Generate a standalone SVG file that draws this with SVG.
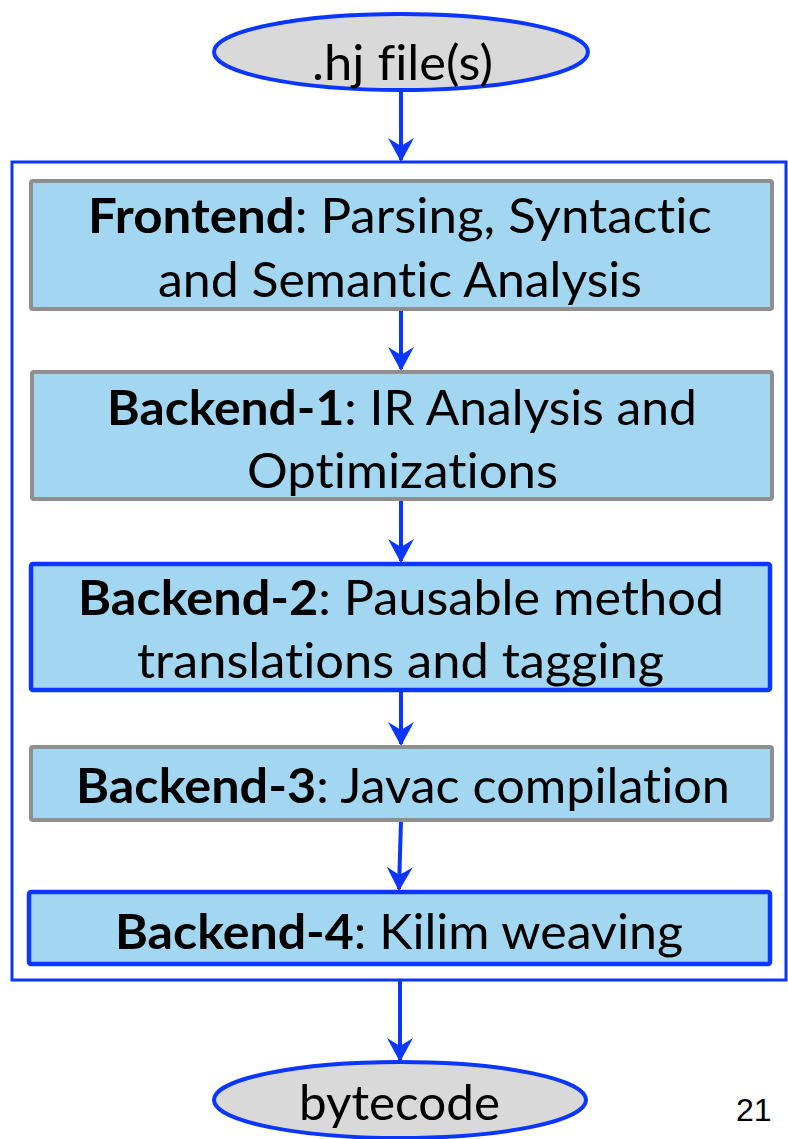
<svg xmlns="http://www.w3.org/2000/svg" width="788" height="1139" viewBox="0 0 788 1139">
<style>
.bg{fill:#ffffff}
.ell{fill:#d9d9d9;stroke:#0a36ff;stroke-width:4}
.outer{fill:none;stroke:#0a36ff;stroke-width:3}
.box{fill:#a3d7f1;stroke-width:4}
.gray{stroke:#8f8f8f}
.blue{stroke:#0a36ff;stroke-width:4.5}
.t{font-family:Lato,"Open Sans",sans-serif;font-size:48px;fill:#000;font-variant-ligatures:none;font-feature-settings:"liga" 0,"clig" 0}
.b{font-weight:bold}
.num{font-family:"Liberation Sans",Arial,sans-serif;font-size:32px;fill:#000}
.conn line{stroke:#0a36ff;stroke-width:4;marker-end:url(#arr)}
</style>
<defs>
<marker id="arr" markerUnits="userSpaceOnUse" markerWidth="24" markerHeight="26" viewBox="0 0 24 26" refX="22" refY="13" orient="auto">
<path d="M0,0 L24,13 L0,26 L8,13 z" fill="#0a36ff"/>
</marker>
</defs>
<rect class="bg" x="0" y="0" width="788" height="1139"/>
<g id="container"><rect class="outer" x="12" y="162" width="774" height="818"/></g>
<g class="conn" id="connectors">
<line x1="401" y1="90" x2="401" y2="160"/>
<line x1="401" y1="309" x2="401" y2="369"/>
<line x1="401" y1="499" x2="401" y2="561"/>
<line x1="401" y1="690" x2="401" y2="744"/>
<line x1="401" y1="820" x2="399" y2="889"/>
<line x1="400" y1="980" x2="400" y2="1060"/>
</g>
<g id="input">
<ellipse class="ell" cx="401" cy="52" rx="187" ry="38"/>
<text class="t" x="312" y="80" textLength="181" lengthAdjust="spacingAndGlyphs">.hj file(s)</text>
</g>
<g id="frontend">
<rect class="box gray" x="31" y="181" width="741" height="128" rx="2"/>
<text class="t" x="88" y="233" textLength="624" lengthAdjust="spacingAndGlyphs"><tspan class="b">Frontend</tspan>: Parsing, Syntactic</text>
<text class="t" x="158" y="297" textLength="484" lengthAdjust="spacingAndGlyphs">and Semantic Analysis</text>
</g>
<g id="backend1">
<rect class="box gray" x="32" y="372" width="740" height="127" rx="2"/>
<text class="t" x="107" y="425" textLength="590" lengthAdjust="spacingAndGlyphs"><tspan class="b">Backend-1</tspan>: IR Analysis and</text>
<text class="t" x="247" y="488" textLength="311" lengthAdjust="spacingAndGlyphs">Optimizations</text>
</g>
<g id="backend2">
<rect class="box blue" x="31" y="564" width="739" height="126" rx="2"/>
<text class="t" x="78" y="615" textLength="646" lengthAdjust="spacingAndGlyphs"><tspan class="b">Backend-2</tspan>: Pausable method</text>
<text class="t" x="137" y="678" textLength="527" lengthAdjust="spacingAndGlyphs">translations and tagging</text>
</g>
<g id="backend3">
<rect class="box gray" x="31" y="747" width="741" height="73" rx="2"/>
<text class="t" x="76" y="803" textLength="654" lengthAdjust="spacingAndGlyphs"><tspan class="b">Backend-3</tspan>: Javac compilation</text>
</g>
<g id="backend4">
<rect class="box blue" x="29" y="892" width="741" height="72" rx="2"/>
<text class="t" x="115" y="949" textLength="568" lengthAdjust="spacingAndGlyphs"><tspan class="b">Backend-4</tspan>: Kilim weaving</text>
</g>
<g id="output">
<ellipse class="ell" cx="400" cy="1100" rx="186" ry="38"/>
<text class="t" x="299" y="1120" textLength="201" lengthAdjust="spacingAndGlyphs">bytecode</text>
</g>
<text class="num" x="736" y="1121">21</text>
</svg>
